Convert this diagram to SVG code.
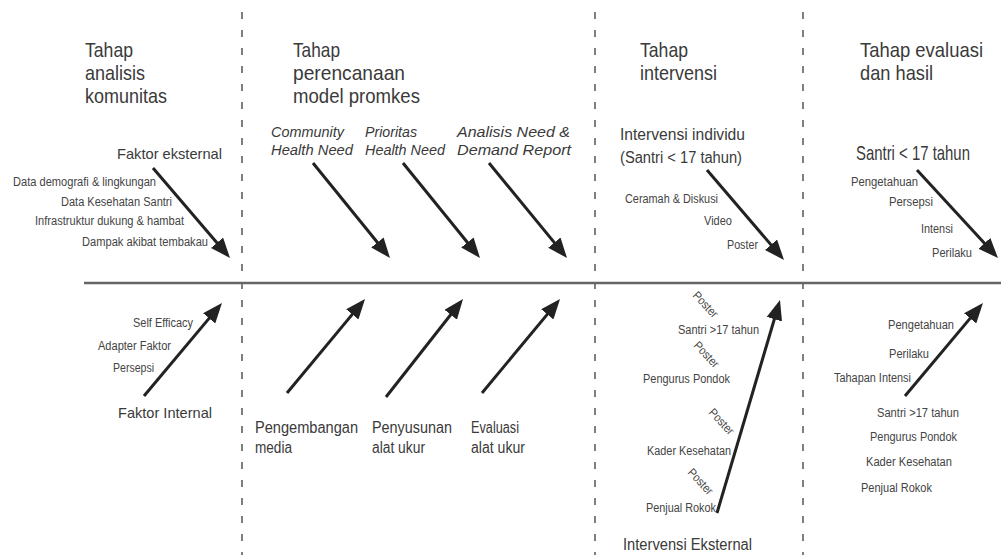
<svg xmlns="http://www.w3.org/2000/svg" width="1001" height="555" viewBox="0 0 1001 555">
  <style>
    text { font-family: "Liberation Sans", Arial, sans-serif; fill: #3a3a3a; }
    .title { font-size: 21px; }
    .head { font-size: 16px; }
    .it { font-size: 14px; font-style: italic; }
    .sm { font-size: 12px; fill: #444; }
    .divider { stroke: #555; stroke-width: 1.5; stroke-dasharray: 7 11; fill: none; }
    .axis { stroke: #666; stroke-width: 2.5; }
    .arrow { stroke: #222; stroke-width: 3; fill: none; marker-end: url(#head); }
  </style>
  <defs>
    <marker id="head" markerUnits="userSpaceOnUse" markerWidth="20" markerHeight="16" viewBox="0 0 20 16" refX="14" refY="8" orient="auto">
      <path d="M0,0 L20,8 L0,16 z" fill="#222"/>
    </marker>
  </defs>
  <rect width="1001" height="555" fill="#fff"/>

  <!-- stage dividers and main axis -->
  <g id="frame">
    <line class="divider" x1="242" y1="12" x2="242" y2="555"/>
    <line class="divider" x1="595" y1="12" x2="595" y2="555"/>
    <line class="divider" x1="803" y1="12" x2="803" y2="555"/>
    <line class="axis" x1="84" y1="283" x2="1001" y2="283"/>
  </g>

  <!-- stage titles -->
  <g id="stage-analisis">
    <text class="title" x="85" y="57" textLength="48" lengthAdjust="spacingAndGlyphs">Tahap</text>
    <text class="title" x="85" y="80" textLength="60" lengthAdjust="spacingAndGlyphs">analisis</text>
    <text class="title" x="85" y="103" textLength="82" lengthAdjust="spacingAndGlyphs">komunitas</text>
  </g>
  <g id="stage-perencanaan">
    <text class="title" x="293" y="57" textLength="47" lengthAdjust="spacingAndGlyphs">Tahap</text>
    <text class="title" x="293" y="80" textLength="112" lengthAdjust="spacingAndGlyphs">perencanaan</text>
    <text class="title" x="293" y="103" textLength="127" lengthAdjust="spacingAndGlyphs">model promkes</text>
  </g>
  <g id="stage-intervensi">
    <text class="title" x="640" y="57" textLength="48" lengthAdjust="spacingAndGlyphs">Tahap</text>
    <text class="title" x="640" y="80" textLength="77" lengthAdjust="spacingAndGlyphs">intervensi</text>
  </g>
  <g id="stage-evaluasi">
    <text class="title" x="860" y="57" textLength="123" lengthAdjust="spacingAndGlyphs">Tahap evaluasi</text>
    <text class="title" x="860" y="80" textLength="73" lengthAdjust="spacingAndGlyphs">dan hasil</text>
  </g>

  <!-- analisis komunitas: external / internal factors -->
  <g id="faktor-eksternal">
    <text x="117" y="159" font-size="15" textLength="105" lengthAdjust="spacingAndGlyphs">Faktor eksternal</text>
    <text class="sm" x="13" y="186" textLength="143" lengthAdjust="spacingAndGlyphs">Data demografi &amp; lingkungan</text>
    <text class="sm" x="61" y="206" textLength="111" lengthAdjust="spacingAndGlyphs">Data Kesehatan Santri</text>
    <text class="sm" x="35" y="225" textLength="149" lengthAdjust="spacingAndGlyphs">Infrastruktur dukung &amp; hambat</text>
    <text class="sm" x="82" y="246" textLength="126" lengthAdjust="spacingAndGlyphs">Dampak akibat tembakau</text>
  </g>
  <g id="faktor-internal">
    <text class="sm" x="133" y="327" textLength="60" lengthAdjust="spacingAndGlyphs">Self Efficacy</text>
    <text class="sm" x="98" y="350" textLength="73" lengthAdjust="spacingAndGlyphs">Adapter Faktor</text>
    <text class="sm" x="113" y="372" textLength="41" lengthAdjust="spacingAndGlyphs">Persepsi</text>
    <text x="118" y="418" font-size="15" textLength="94" lengthAdjust="spacingAndGlyphs">Faktor Internal</text>
  </g>

  <!-- perencanaan model promkes -->
  <g id="community-health-need">
    <text class="it" x="271" y="137" textLength="73" lengthAdjust="spacingAndGlyphs">Community</text>
    <text class="it" x="271" y="155" textLength="82" lengthAdjust="spacingAndGlyphs">Health Need</text>
  </g>
  <g id="prioritas-health-need">
    <text class="it" x="365" y="137" textLength="52" lengthAdjust="spacingAndGlyphs">Prioritas</text>
    <text class="it" x="365" y="155" textLength="80" lengthAdjust="spacingAndGlyphs">Health Need</text>
  </g>
  <g id="analisis-need-demand">
    <text class="it" x="457" y="137" textLength="113" lengthAdjust="spacingAndGlyphs">Analisis Need &amp;</text>
    <text class="it" x="457" y="155" textLength="114" lengthAdjust="spacingAndGlyphs">Demand Report</text>
  </g>
  <g id="pengembangan-media">
    <text class="head" x="255" y="433" textLength="103" lengthAdjust="spacingAndGlyphs">Pengembangan</text>
    <text class="head" x="255" y="453" textLength="37" lengthAdjust="spacingAndGlyphs">media</text>
  </g>
  <g id="penyusunan-alat-ukur">
    <text class="head" x="372" y="433" textLength="80" lengthAdjust="spacingAndGlyphs">Penyusunan</text>
    <text class="head" x="372" y="453" textLength="53" lengthAdjust="spacingAndGlyphs">alat ukur</text>
  </g>
  <g id="evaluasi-alat-ukur">
    <text class="head" x="471" y="433" textLength="48" lengthAdjust="spacingAndGlyphs">Evaluasi</text>
    <text class="head" x="471" y="453" textLength="54" lengthAdjust="spacingAndGlyphs">alat ukur</text>
  </g>

  <!-- intervensi -->
  <g id="intervensi-individu">
    <text class="head" x="620" y="140" textLength="125" lengthAdjust="spacingAndGlyphs">Intervensi individu</text>
    <text class="head" x="620" y="163" textLength="122" lengthAdjust="spacingAndGlyphs">(Santri &lt; 17 tahun)</text>
    <text class="sm" x="625" y="203" textLength="93" lengthAdjust="spacingAndGlyphs">Ceramah &amp; Diskusi</text>
    <text class="sm" x="704" y="225" textLength="28" lengthAdjust="spacingAndGlyphs">Video</text>
    <text class="sm" x="727" y="249" textLength="31" lengthAdjust="spacingAndGlyphs">Poster</text>
  </g>
  <g id="intervensi-eksternal">
    <text class="sm" transform="translate(692 296) rotate(47)" textLength="31" lengthAdjust="spacingAndGlyphs">Poster</text>
    <text class="sm" x="678" y="334" textLength="81" lengthAdjust="spacingAndGlyphs">Santri &gt;17 tahun</text>
    <text class="sm" transform="translate(693 346) rotate(47)" textLength="31" lengthAdjust="spacingAndGlyphs">Poster</text>
    <text class="sm" x="643" y="383" textLength="87" lengthAdjust="spacingAndGlyphs">Pengurus Pondok</text>
    <text class="sm" transform="translate(708 413) rotate(47)" textLength="31" lengthAdjust="spacingAndGlyphs">Poster</text>
    <text class="sm" x="647" y="455" textLength="84" lengthAdjust="spacingAndGlyphs">Kader Kesehatan</text>
    <text class="sm" transform="translate(687 473) rotate(47)" textLength="31" lengthAdjust="spacingAndGlyphs">Poster</text>
    <text class="sm" x="646" y="512" textLength="70" lengthAdjust="spacingAndGlyphs">Penjual Rokok</text>
    <text class="head" x="623" y="550" textLength="129" lengthAdjust="spacingAndGlyphs">Intervensi Eksternal</text>
  </g>

  <!-- evaluasi dan hasil -->
  <g id="hasil-santri-muda">
    <!-- narrow heading: horizontally condensed -->
    <text transform="translate(856 160) scale(0.71 1)" font-size="21">Santri &lt; 17 tahun</text>
    <text class="sm" x="851" y="186" textLength="67" lengthAdjust="spacingAndGlyphs">Pengetahuan</text>
    <text class="sm" x="889" y="206" textLength="44" lengthAdjust="spacingAndGlyphs">Persepsi</text>
    <text class="sm" x="921" y="233" textLength="32" lengthAdjust="spacingAndGlyphs">Intensi</text>
    <text class="sm" x="932" y="257" textLength="40" lengthAdjust="spacingAndGlyphs">Perilaku</text>
  </g>
  <g id="hasil-eksternal">
    <text class="sm" x="888" y="329" textLength="66" lengthAdjust="spacingAndGlyphs">Pengetahuan</text>
    <text class="sm" x="889" y="358" textLength="40" lengthAdjust="spacingAndGlyphs">Perilaku</text>
    <text class="sm" x="834" y="382" textLength="77" lengthAdjust="spacingAndGlyphs">Tahapan Intensi</text>
    <text class="sm" x="877" y="417" textLength="82" lengthAdjust="spacingAndGlyphs">Santri &gt;17 tahun</text>
    <text class="sm" x="870" y="441" textLength="87" lengthAdjust="spacingAndGlyphs">Pengurus Pondok</text>
    <text class="sm" x="866" y="466" textLength="86" lengthAdjust="spacingAndGlyphs">Kader Kesehatan</text>
    <text class="sm" x="861" y="492" textLength="71" lengthAdjust="spacingAndGlyphs">Penjual Rokok</text>
  </g>

  <!-- connectors: arrows pointing into the main axis -->
  <g id="connectors">
    <line class="arrow" x1="153" y1="168" x2="226.1" y2="253.4"/>
    <line class="arrow" x1="313" y1="163" x2="386.2" y2="253.3"/>
    <line class="arrow" x1="403" y1="163" x2="476.2" y2="253.3"/>
    <line class="arrow" x1="489" y1="163" x2="563.2" y2="253.4"/>
    <line class="arrow" x1="707" y1="170" x2="780.1" y2="255.4"/>
    <line class="arrow" x1="917" y1="170" x2="993.9" y2="253.6"/>
    <line class="arrow" x1="144" y1="396" x2="218.1" y2="307.6"/>
    <line class="arrow" x1="287" y1="393" x2="361.2" y2="303.6"/>
    <line class="arrow" x1="386" y1="397" x2="459.3" y2="303.7"/>
    <line class="arrow" x1="482" y1="393" x2="556.2" y2="303.6"/>
    <line class="arrow" x1="717" y1="513" x2="778.3" y2="305.8"/>
    <line class="arrow" x1="905" y1="396" x2="979.1" y2="307.6"/>
  </g>
</svg>
